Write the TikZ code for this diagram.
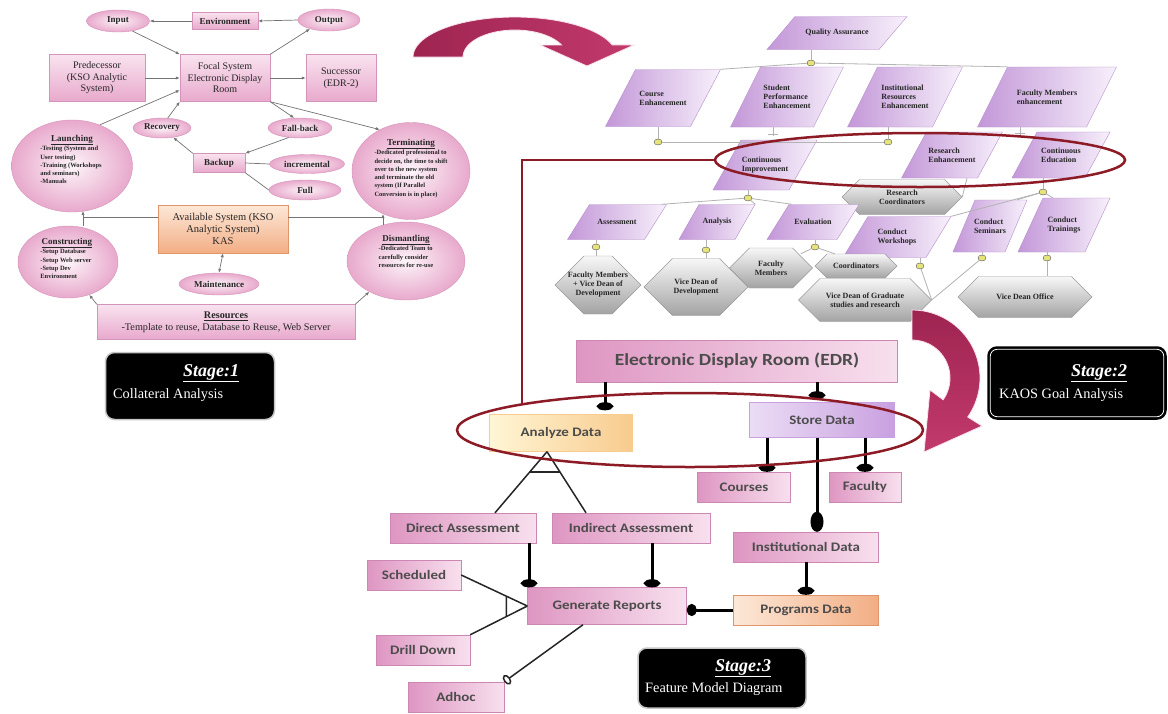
\documentclass[tikz,border=0pt]{standalone}
\usepackage{fontspec}
\setmainfont{Liberation Serif}
\newfontfamily\calfont{Carlito}[FakeStretch=1.15]
\usetikzlibrary{shapes.geometric,arrows.meta,calc}

\definecolor{pkL}{HTML}{F9E3EF}
\definecolor{pkD}{HTML}{E8A9CC}
\definecolor{pkE}{HTML}{D493B8}
\definecolor{orL}{HTML}{FDE8D8}
\definecolor{orD}{HTML}{F2AE84}
\definecolor{orE}{HTML}{E0956A}
\definecolor{yeL}{HTML}{FFF6D5}
\definecolor{yeD}{HTML}{F8CB8E}
\definecolor{lvL}{HTML}{EBDDF5}
\definecolor{lvD}{HTML}{C9A0E0}
\definecolor{puL}{HTML}{F7F0FB}
\definecolor{puD}{HTML}{C397D8}
\definecolor{puE}{HTML}{B58CCB}
\definecolor{gyL}{HTML}{F7F7F7}
\definecolor{gyD}{HTML}{A3A3A3}
\definecolor{s3L}{HTML}{F8E0EE}
\definecolor{s3D}{HTML}{DE96C2}
\definecolor{s3E}{HTML}{CC88B2}
\definecolor{crimD}{HTML}{9E2450}
\definecolor{crimL}{HTML}{C23A6C}
\definecolor{ovred}{HTML}{8C1B26}
\definecolor{mk}{HTML}{E6E27C}

% parallelogram goal: name, cx, cy, width, height, slant, text
\newcommand\kpara[7]{%
  \path[kpfill] ({#2-#4/2},{#3+#5/2}) -- ({#2-#4/2+#6},{#3-#5/2}) -- ({#2+#4/2},{#3-#5/2}) -- ({#2+#4/2-#6},{#3+#5/2}) -- cycle;
  \node[kt, minimum width=#4pt, minimum height=#5pt] (#1) at (#2,#3) {#7};}
% hexagon agent: name, cx, cy, width, height, text
\newcommand\khex[6]{%
  \path[khfill] ({#2-#4/2},{#3}) -- ({#2-#4/2+0.5*#5},{#3-#5/2}) -- ({#2+#4/2-0.5*#5},{#3-#5/2}) -- ({#2+#4/2},{#3}) -- ({#2+#4/2-0.5*#5},{#3+#5/2}) -- ({#2-#4/2+0.5*#5},{#3+#5/2}) -- cycle;
  \node[kt, align=center, minimum width=#4pt, minimum height=#5pt] (#1) at (#2,#3) {#6};}

\begin{document}
\begin{tikzpicture}[x=1pt,y=-1pt,
  every node/.style={inner sep=1pt, text=black!85},
  s1rect/.style={rectangle, draw=pkE, line width=0.4pt, top color=pkL, bottom color=pkD, align=center, font=\fontsize{10}{11.5}\selectfont},
  s1or/.style={s1rect, draw=orE, top color=orL, bottom color=orD, font=\fontsize{10.5}{12}\selectfont},
  s1ell/.style={ellipse, draw=pkE, line width=0.4pt, inner color=pkL!40!white, outer color=pkD, inner sep=0pt},
  s1sm/.style={font=\bfseries\fontsize{9}{10}\selectfont},
  s1ttl/.style={font=\bfseries\fontsize{9}{10}\selectfont, inner sep=0pt},
  s1txt/.style={font=\bfseries\fontsize{6.5}{8.3}\selectfont, align=left, inner sep=0pt, anchor=north},
  s1arr/.style={draw=black!55, line width=0.7pt, -{Latex[length=4pt,width=3.2pt]}},
  s1line/.style={draw=black!55, line width=0.7pt},
  kpfill/.style={draw=puE, line width=0.4pt, left color=puD, right color=puL},
  khfill/.style={draw=gray!80, line width=0.4pt, top color=gyL, bottom color=gyD},
  kt/.style={font=\bfseries\fontsize{8}{9}\selectfont, align=left, inner sep=0pt},
  kline/.style={draw=gray!60, line width=0.8pt},
  kdot/.style={ellipse, draw=gray!70!black, line width=0.4pt, fill=mk, minimum width=8pt, minimum height=6pt, inner sep=0pt},
  s3/.style={rectangle, draw=s3E, line width=0.4pt, left color=s3D, right color=s3L, font=\calfont\bfseries\fontsize{13}{15}\selectfont, text=black!70},
  s3y/.style={s3, draw=yeD, left color=yeL, right color=yeD},
  s3p/.style={s3, draw=lvD, left color=lvL, right color=lvD},
  s3o/.style={s3, draw=orE, left color=orL, right color=orD},
  mand/.style={draw=black, line width=3pt, -{Circle[length=8pt, width=16pt]}},
  grp/.style={draw=black!85, line width=1.5pt},
  opt/.style={grp, -{Circle[open, length=7pt, width=11pt]}},
  ov/.style={ellipse, draw=ovred, line width=2.5pt, inner sep=0pt},
  stbox/.style={rectangle, rounded corners=9pt, fill=black, draw=gray!45, line width=1.5pt},
  sttitle/.style={font=\bfseries\itshape\fontsize{18}{20}\selectfont, text=white},
  stsub/.style={font=\fontsize{14.3}{16}\selectfont, text=white, anchor=west}
]
\fill[white] (0,0) rectangle (1168,713);
\path[use as bounding box] (0,0) rectangle (1168,713);

% ---------------- Stage 1: collateral analysis ----------------
\node[s1ell, s1sm, minimum width=63pt, minimum height=22pt] (inp) at (118,21) {Input};
\node[s1rect, s1sm, minimum width=66pt, minimum height=17pt] (env) at (225,21) {Environment};
\node[s1ell, s1sm, minimum width=62pt, minimum height=22pt] (outp) at (329,20) {Output};
\node[s1rect, minimum width=96pt, minimum height=47pt] (pred) at (97,78) {Predecessor\\(KSO Analytic\\System)};
\node[s1rect, minimum width=90pt, minimum height=47pt] (focal) at (225,78) {Focal System\\Electronic Display\\Room};
\node[s1rect, minimum width=70pt, minimum height=47pt] (succ) at (341,78) {Successor\\(EDR-2)};
\node[s1ell, s1sm, minimum width=58pt, minimum height=20pt] (recov) at (162,128) {Recovery};
\node[s1ell, s1sm, minimum width=64pt, minimum height=20pt] (fallb) at (300,128) {Fall-back};
\node[s1rect, s1sm, minimum width=52pt, minimum height=19pt] (backup) at (219,163) {Backup};
\node[s1ell, s1sm, minimum width=75pt, minimum height=19pt] (incr) at (307,164) {incremental};
\node[s1ell, s1sm, minimum width=72pt, minimum height=20pt] (full) at (305,190) {Full};
\node[s1ell, minimum width=121pt, minimum height=92pt] (launch) at (72,166) {};
\node[s1ell, minimum width=118pt, minimum height=97pt] (term) at (411,171) {};
\node[s1ell, minimum width=118pt, minimum height=78pt] (dism) at (406,261) {};
\node[s1ell, minimum width=100pt, minimum height=72pt] (constr) at (68,262) {};
\node[s1or, minimum width=130pt, minimum height=48pt] (avail) at (223,229) {Available System (KSO\\Analytic System)\\KAS};
\node[s1ell, s1sm, minimum width=80pt, minimum height=22pt] (maint) at (219,284) {Maintenance};
\node[s1rect, minimum width=258pt, minimum height=35pt, font=\fontsize{10.2}{11.5}\selectfont] (res) at (226,322) {\textbf{\underline{Resources}}\\-Template to reuse, Database to Reuse, Web Server};

\node[s1ttl] at (72,140) {\underline{Launching}};
\node[s1txt] at (71,146) {-Testing (System and\\User testing)\\-Training (Workshops\\and seminars)\\-Manuals};
\node[s1ttl] at (67,243) {\underline{Constructing}};
\node[s1txt] at (66,249) {-Setup Database\\-Setup Web server\\-Setup Dev\\Environment};
\node[s1ttl] at (411,144) {\underline{Terminating}};
\node[s1txt] at (411,150) {-Dedicated professional to\\decide on, the time to shift\\over to the new system\\and terminate the old\\system (If Parallel\\Conversion is in place)};
\node[s1ttl] at (406,240) {\underline{Dismantling}};
\node[s1txt] at (406,246) {-Dedicated Team to\\carefully consider\\resources for re-use};

\draw[s1arr] (env.west) -- (inp.east);
\draw[s1arr] (outp.west) -- (env.east);
\draw[s1arr] (inp.-35) -- (focal.north west);
\draw[s1arr] (focal.north east) -- (outp.205);
\draw[s1arr] (pred.east) -- (focal.west);
\draw[s1arr, line width=1pt] (focal.east) -- (succ.west);
\draw[s1arr] (launch.56) -- (focal.195);
\draw[s1arr] (recov.60) -- (focal.south west);
\draw[s1arr] (focal.south east) -- (fallb.120);
\draw[s1arr] (focal.south east) -- (term.127);
\draw[s1arr] (backup.north west) -- (recov.-40);
\draw[s1arr] (fallb.220) -- (backup.north east);
\draw[s1line] (backup.east) -- (incr.west);
\draw[s1line] (backup.south east) -- (full.west);
\coordinate (jl) at (83,217);
\coordinate (jr) at (383,217);
\draw[s1line] ($(avail.west)+(0,-12)$) -- (jl) -- (jl |- constr.north);
\draw[s1arr] (jl) -- (83,211);
\draw[s1line] ($(avail.east)+(0,-12)$) -- (jr) -- (383,225);
\draw[s1arr] (jr) -- (383,214);
\draw[s1arr, {Latex[length=4pt,width=3.2pt]}-{Latex[length=4pt,width=3.2pt]}] (avail.south) -- (maint.north);
\draw[s1arr] (res.north west) -- (constr.-57);
\draw[s1arr] (res.north east) -- (dism.-140);

\node[stbox, minimum width=169pt, minimum height=67pt] (st1) at (190,386) {};
\node[sttitle] at (211,373) {\underline{Stage:1}};
\node[stsub] at (112,395) {Collateral Analysis};

% ---------------- Stage 2: KAOS goal model ----------------
\kpara{qa}{837}{33}{140}{33}{28}{Quality Assurance}
\kpara{ce}{663}{98}{115}{57}{30}{Course\\Enhancement}
\kpara{sp}{787}{97}{113}{60}{30}{Student\\Performance\\Enhancement}
\kpara{ir}{905}{97}{115}{60}{30}{Institutional\\Resources\\Enhancement}
\kpara{fme}{1047}{97}{139}{60}{30}{Faculty Members\\enhancement}
\kpara{ci}{765}{165}{104}{50}{28}{Continuous\\Improvement}
\kpara{re}{952}{155}{101}{46}{25}{Research\\Enhancement}
\kpara{ced}{1061}{155}{98}{46}{25}{Continuous\\Education}
\khex{rc}{902}{197}{120}{35}{Research\\Coordinators}
\kpara{ass}{617}{222}{99}{35}{22}{Assessment}
\kpara{ana}{717}{222}{76}{35}{20}{Analysis}
\kpara{eva}{813}{222}{92}{35}{22}{Evaluation}
\kpara{cw}{897}{237}{108}{41}{25}{Conduct\\Workshops}
\kpara{cs}{990}{226}{74}{52}{22}{Conduct\\Seminars}
\kpara{ct}{1064}{225}{92}{54}{25}{Conduct\\Trainings}
\khex{vdd}{696}{287}{104}{57}{Vice Dean of\\Development}
\khex{fmv}{598}{285}{86}{58}{Faculty Members\\+ Vice Dean of\\Development}
\khex{fm2}{771}{268}{83}{40}{Faculty\\Members}
\khex{coo}{856}{266}{82}{24}{Coordinators}
\khex{vdg}{865}{300}{133}{43}{Vice Dean of Graduate\\studies and research}
\khex{vdo}{1025}{297}{134}{41}{Vice Dean Office}

\node[kdot] (m0) at (811,63) {};
\node[kdot] (m1) at (658,142) {};
\node[kdot] (m2) at (888,142) {};
\node[kdot] (m3) at (748,198) {};
\node[kdot] (m4) at (1043,192) {};
\node[kdot] (m5) at (596,247) {};
\node[kdot] (m6) at (706,250) {};
\node[kdot] (m7) at (815,247) {};
\node[kdot] (m8) at (920,266) {};
\node[kdot] (m9) at (982,258) {};
\node[kdot] (m10) at (1047,258) {};

\draw[kline] (m0 |- qa.south) -- (m0.north);
\draw[kline] (m0) -- (ce.north east);
\draw[kline] (m0) -- ($(fme.north west)+(30,0)$);
\draw[kline] (m1 |- ce.south) -- (m1.north);
\draw[kline] (m2 |- ir.south) -- (m2.north);
\draw[kline] (m1) -- (m2);
\draw[kline] ($(sp.south)+(-14,0)$) -- ++(0,9) ++(-5,-2) -- ++(10,0);
\draw[kline] ($(fme.south)+(-27,0)$) -- ++(0,8) ++(-5,-2) -- ++(10,0);
\draw[kline] (m3 |- ci.south) -- (m3.north);
\draw[kline] (m3) -- ($(ass.north east)+(-5,0)$);
\draw[kline] (m3) -- (ana.north east);
\draw[kline] (m3) -- ($(eva.north west)+(25,0)$);
\draw[kline] ($(re.south)+(15,0)$) -- (rc.east);
\draw[kline] (m4 |- ced.south) -- (m4.north);
\draw[kline] (m4) -- ($(ct.north west)+(35,0)$);
\draw[kline] (m4) -- (cw.north east);
\draw[kline] (m4) -- ($(cs.north east)+(-10,0)$);
\draw[kline] (ass.south -| m5) -- (m5.north);
\draw[kline] (m5.south) -- (m5 |- fmv.north);
\draw[kline] (ana.south -| m6) -- (m6.north);
\draw[kline] (m6.south) -- (m6 |- vdd.north);
\draw[kline] (eva.south -| m7) -- (m7.north);
\draw[kline] (m7) -- ($(fm2.north east)+(-12,6)$);
\draw[kline] (m7) -- ($(coo.north west)+(20,0)$);
\draw[kline] (cw.south -| m8) -- (m8.north);
\draw[kline] (m8) -- (vdg.east);
\draw[kline] (cs.south -| m9) -- (m9.north);
\draw[kline] (m9) -- (vdg.east);
\draw[kline] (ct.south -| m10) -- (m10.north);
\draw[kline] (m10.south) -- (m10 |- vdo.north);

\node[stbox, draw=black, minimum width=178pt, minimum height=72pt] (st2) at (1077,383) {};
\draw[white, line width=0.8pt, rounded corners=7pt] ($(st2.south west)+(3,-3)$) rectangle ($(st2.north east)+(-3,3)$);
\node[sttitle] at (1099,373) {\underline{Stage:2}};
\node[stsub] at (998,395) {KAOS Goal Analysis};

% ---------------- Stage 3: feature model ----------------
\node[s3, minimum width=321pt, minimum height=42pt, font=\calfont\bfseries\fontsize{17}{19}\selectfont] (edr) at (737,361) {Electronic Display Room (EDR)};
\node[s3y, minimum width=143pt, minimum height=37pt] (anad) at (561,433) {Analyze Data};
\node[s3p, minimum width=145pt, minimum height=35pt] (sto) at (822,420) {Store Data};
\node[s3, minimum width=93pt, minimum height=30pt] (cou) at (744,487) {Courses};
\node[s3, minimum width=72pt, minimum height=30pt] (fac) at (865,487) {Faculty};
\node[s3, minimum width=146pt, minimum height=30pt] (da) at (463,528) {Direct Assessment};
\node[s3, minimum width=158pt, minimum height=30pt] (ia) at (631,528) {Indirect Assessment};
\node[s3, minimum width=145pt, minimum height=30pt] (inst) at (806,547) {Institutional Data};
\node[s3, minimum width=94pt, minimum height=30pt] (sch) at (414,575) {Scheduled};
\node[s3, minimum width=159pt, minimum height=37pt] (gr) at (607,606) {Generate Reports};
\node[s3o, minimum width=145pt, minimum height=30pt] (prog) at (806,610) {Programs Data};
\node[s3, minimum width=94pt, minimum height=30pt] (dd) at (423,650) {Drill Down};
\node[s3, minimum width=96pt, minimum height=30pt] (adh) at (456,697) {Adhoc};

\coordinate (xa) at (605,0);
\coordinate (xs) at (817,0);
\coordinate (xc) at (767,0);
\coordinate (xd) at (529,0);
\coordinate (xi) at (652,0);
\coordinate (xp) at (547,0);
\coordinate (xl) at (495,0);
\coordinate (xr) at (586,0);

\draw[mand, shorten >=4pt] (edr.south -| xa) -- (anad.north -| xa);
\draw[mand, shorten >=3pt] (edr.south -| xs) -- (sto.north -| xs);
\draw[mand] (sto.south -| xc) -- (cou.north -| xc);
\draw[mand] (sto.south -| fac.north) -- (fac.north);
\draw[mand, -{Circle[length=20pt, width=13pt]}] (sto.south -| xs) -- (inst.north -| xs);
\draw[mand] (inst.south) -- (prog.north);
\draw[mand, -{Circle[length=10pt, width=12pt]}] (prog.west) -- (prog.west -| gr.east);
\draw[mand] (da.south -| xd) -- (gr.north -| xd);
\draw[mand] (ia.south -| xi) -- (gr.north -| xi);

\coordinate (apx) at (anad.south -| xp);
\coordinate (dtop) at (da.north -| xl);
\coordinate (itop) at (ia.north -| xr);
\draw[grp] (apx) -- (dtop);
\draw[grp] (apx) -- (itop);
\draw[grp] ($(apx)!0.33!(dtop)$) -- ($(apx)!0.33!(itop)$);
\draw[grp] (gr.west) -- (sch.east);
\draw[grp] (gr.west) -- (dd.north east);
\draw[grp] ($(gr.west)!0.318!(sch.east)$) -- ($(gr.west)!0.368!(dd.north east)$);
\draw[opt] ($(gr.south)+(-24,0)$) -- (adh.north east);

\node[stbox, minimum width=168pt, minimum height=60pt] (st3) at (722,678) {};
\node[sttitle] at (743,668) {\underline{Stage:3}};
\node[stsub] at (644,689) {Feature Model Diagram};

% ---------------- curved transition arrows ----------------
\path[left color=crimD, right color=crimL, draw=pkL, line width=0.8pt]
  plot[domain=180:342.5, samples=40] ({515+102*cos(\x)}, {57+40*sin(\x)})
  -- (634,45) -- (587,66) -- (540,45)
  -- plot[domain=0:153.6, samples=40] ({515+52*cos(333.6-\x)}, {57+27*sin(333.6-\x)})
  -- cycle;
\path[top color=crimD, bottom color=crimL, draw=pkL, line width=0.8pt]
  plot[domain=-90:35, samples=40] ({912+68*cos(\x)}, {378+68*sin(\x)})
  -- (982,426) -- (924,452) -- (930,390)
  -- plot[domain=0:125, samples=40] ({912+38*cos(35-\x)}, {378+38*sin(35-\x)})
  -- cycle;

% ---------------- highlighted groups ----------------
\node[ov, minimum width=410pt, minimum height=54pt] (ovA) at (920,160) {};
\node[ov, minimum width=466pt, minimum height=74pt] (ovB) at (690,430) {};
\draw[ovred, line width=2.5pt] (ovB.171) |- (ovA.west);
\end{tikzpicture}
\end{document}
